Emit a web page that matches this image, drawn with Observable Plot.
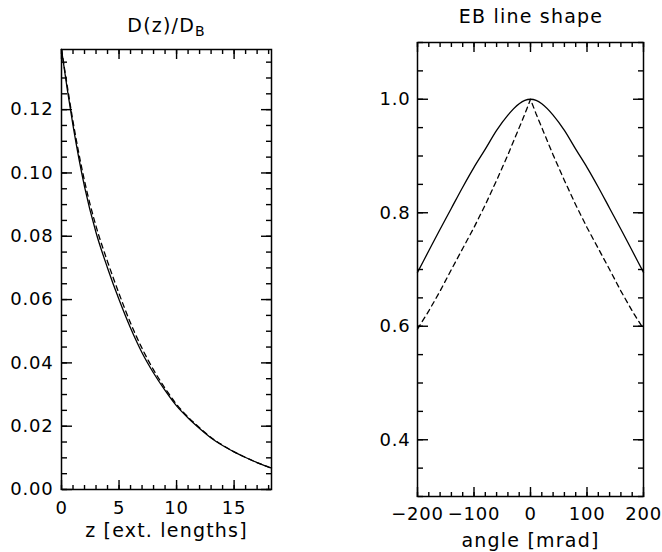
<!DOCTYPE html>
<html><head><meta charset="utf-8">
<script src="https://cdn.jsdelivr.net/npm/d3@7"></script>
<script src="https://cdn.jsdelivr.net/npm/@observablehq/plot@0.6"></script>
<style>
body{margin:0;background:#fff;}
#wrap{position:relative;width:662px;height:552px;font-family:"DejaVu Sans",sans-serif;color:#000;overflow:hidden;}
.panel{position:absolute;top:0;}
.panel svg{overflow:visible;}
.title{position:absolute;font-size:19px;line-height:1;letter-spacing:1.2px;white-space:nowrap;transform:translateX(-50%);}
.title sub{font-size:14px;vertical-align:-4px;line-height:0;letter-spacing:0;}
.panel text{letter-spacing:0.8px;}
.panel .axlabel text{letter-spacing:1.2px;}
</style></head><body>
<div id="wrap">
  <div id="left" class="panel" style="left:0;width:300px;"></div>
  <div id="right" class="panel" style="left:340px;width:322px;"></div>
  <div class="title" style="left:166px;top:16px;">D(z)/D<sub>B</sub></div>
  <div class="title" style="left:531px;top:7px;">EB line shape</div>
</div>
<script>
// ---- left panel: D(z)/D_B ----
const zValues  = [0, 0.5, 1, 2, 3, 4, 5, 6, 7, 8, 9, 10, 11, 12, 13, 14, 15, 16, 17, 18, 18.25];
const dSolid   = [0.139, 0.1265, 0.1150, 0.0957, 0.0812, 0.0700, 0.0600, 0.0510, 0.0432, 0.0368, 0.0313, 0.0264, 0.0226, 0.0193, 0.0163, 0.0139, 0.0119, 0.0101, 0.0085, 0.0071, 0.0068];
const dDashed  = [0.139, 0.1275, 0.1163, 0.0975, 0.0832, 0.0720, 0.0619, 0.0526, 0.0446, 0.0378, 0.0320, 0.0269, 0.0229, 0.0195, 0.0164, 0.0140, 0.0119, 0.0101, 0.0085, 0.0071, 0.0068];
const dXTicks  = [0, 5, 10, 15];
const dYTicks  = [0, 0.02, 0.04, 0.06, 0.08, 0.10, 0.12];
const dXDomain = [0, 18.25];
const dYDomain = [0, 0.139];

// ---- right panel: EB line shape ----
const angles   = [-200, -180, -160, -140, -120, -100, -80, -60, -40, -20, -10, 0, 10, 20, 40, 60, 80, 100, 120, 140, 160, 180, 200];
const ebSolid  = [0.695, 0.733, 0.771, 0.808, 0.845, 0.880, 0.912, 0.945, 0.972, 0.992, 0.998, 1.000, 0.998, 0.992, 0.972, 0.945, 0.912, 0.880, 0.845, 0.808, 0.771, 0.733, 0.695];
const ebDashed = [0.595, 0.627, 0.662, 0.700, 0.737, 0.774, 0.814, 0.857, 0.902, 0.950, 0.974, 1.000, 0.974, 0.950, 0.902, 0.857, 0.814, 0.774, 0.737, 0.700, 0.662, 0.627, 0.595];
const eXTicks  = [-200, -100, 0, 100, 200];
const eYTicks  = [0.4, 0.6, 0.8, 1.0];
const eXDomain = [-200, 200];
const eYDomain = [0.3, 1.1];

const dXMinor = d3.range(0, 18.001, 1);
const dYMinor = d3.range(0, 0.1391, 0.005);
const eXMinor = d3.range(-200, 200.1, 20);
const eYMinor = d3.range(0.3, 1.1001, 0.05);

// inward-pointing ticks on all four sides: the tick direction comes from
// `anchor`, the position from `frameAnchor`
function ticksMarks(xMajor, yMajor, xMinor, yMinor) {
  const c = {fill: "none", label: null, strokeWidth: 1.4, stroke: "#000"};
  const sides = (ticks, size) => [
    Plot.axisX({...c, ticks, anchor: "top", frameAnchor: "bottom", tickSize: size}),
    Plot.axisX({...c, ticks, anchor: "bottom", frameAnchor: "top", tickSize: size})
  ];
  const sidesY = (ticks, size) => [
    Plot.axisY({...c, ticks, anchor: "right", frameAnchor: "left", tickSize: size}),
    Plot.axisY({...c, ticks, anchor: "left", frameAnchor: "right", tickSize: size})
  ];
  return [...sides(xMinor, 5), ...sides(xMajor, 10), ...sidesY(yMinor, 5), ...sidesY(yMajor, 10)];
}

const style = {fontFamily: '"DejaVu Sans", sans-serif', fontSize: "18px", color: "#000", background: "transparent", overflow: "visible"};

const leftRows = zValues.map((z, i) => ({z, solid: dSolid[i], dashed: dDashed[i]}));
const left = Plot.plot({
  width: 300, height: 552,
  marginLeft: 61, marginRight: 29, marginTop: 49, marginBottom: 63,
  style,
  x: {domain: dXDomain},
  y: {domain: dYDomain},
  marks: [
    ...ticksMarks(dXTicks, dYTicks, dXMinor, dYMinor),
    Plot.axisX({ticks: dXTicks, anchor: "bottom", tickSize: 0, tickPadding: 12, tickFormat: d3.format("d"), label: null}),
    Plot.axisY({ticks: dYTicks, anchor: "left", tickSize: 0, tickPadding: 8, tickFormat: d3.format(".2f"), label: null}),
    Plot.text(["z [ext. lengths]"], {frameAnchor: "bottom", dy: 34, lineAnchor: "top", fontSize: 19, className: "axlabel"}),
    Plot.line(leftRows, {x: "z", y: "dashed", stroke: "#000", strokeWidth: 1.3, strokeDasharray: "5,4", curve: "monotone-x"}),
    Plot.line(leftRows, {x: "z", y: "solid", stroke: "#000", strokeWidth: 1.3, curve: "monotone-x"}),
    Plot.frame({stroke: "#000", strokeWidth: 1.5})
  ]
});
document.getElementById("left").appendChild(left);

const rightRows = angles.map((a, i) => ({a, solid: ebSolid[i], dashed: ebDashed[i]}));
const right = Plot.plot({
  width: 322, height: 552,
  marginLeft: 77, marginRight: 19, marginTop: 42, marginBottom: 56,
  style,
  x: {domain: eXDomain},
  y: {domain: eYDomain},
  marks: [
    ...ticksMarks(eXTicks, eYTicks, eXMinor, eYMinor),
    Plot.axisX({ticks: eXTicks, anchor: "bottom", tickSize: 0, tickPadding: 11, tickFormat: d3.format("d"), label: null}),
    Plot.axisY({ticks: eYTicks, anchor: "left", tickSize: 0, tickPadding: 7, tickFormat: d3.format(".1f"), label: null}),
    Plot.text(["angle [mrad]"], {frameAnchor: "bottom", dy: 37, lineAnchor: "top", fontSize: 19, className: "axlabel"}),
    Plot.line(rightRows, {x: "a", y: "dashed", stroke: "#000", strokeWidth: 1.3, strokeDasharray: "5,4", curve: "linear"}),
    Plot.line(rightRows, {x: "a", y: "solid", stroke: "#000", strokeWidth: 1.3, curve: "monotone-x"}),
    Plot.frame({stroke: "#000", strokeWidth: 1.5})
  ]
});
document.getElementById("right").appendChild(right);
</script>
</body></html>
